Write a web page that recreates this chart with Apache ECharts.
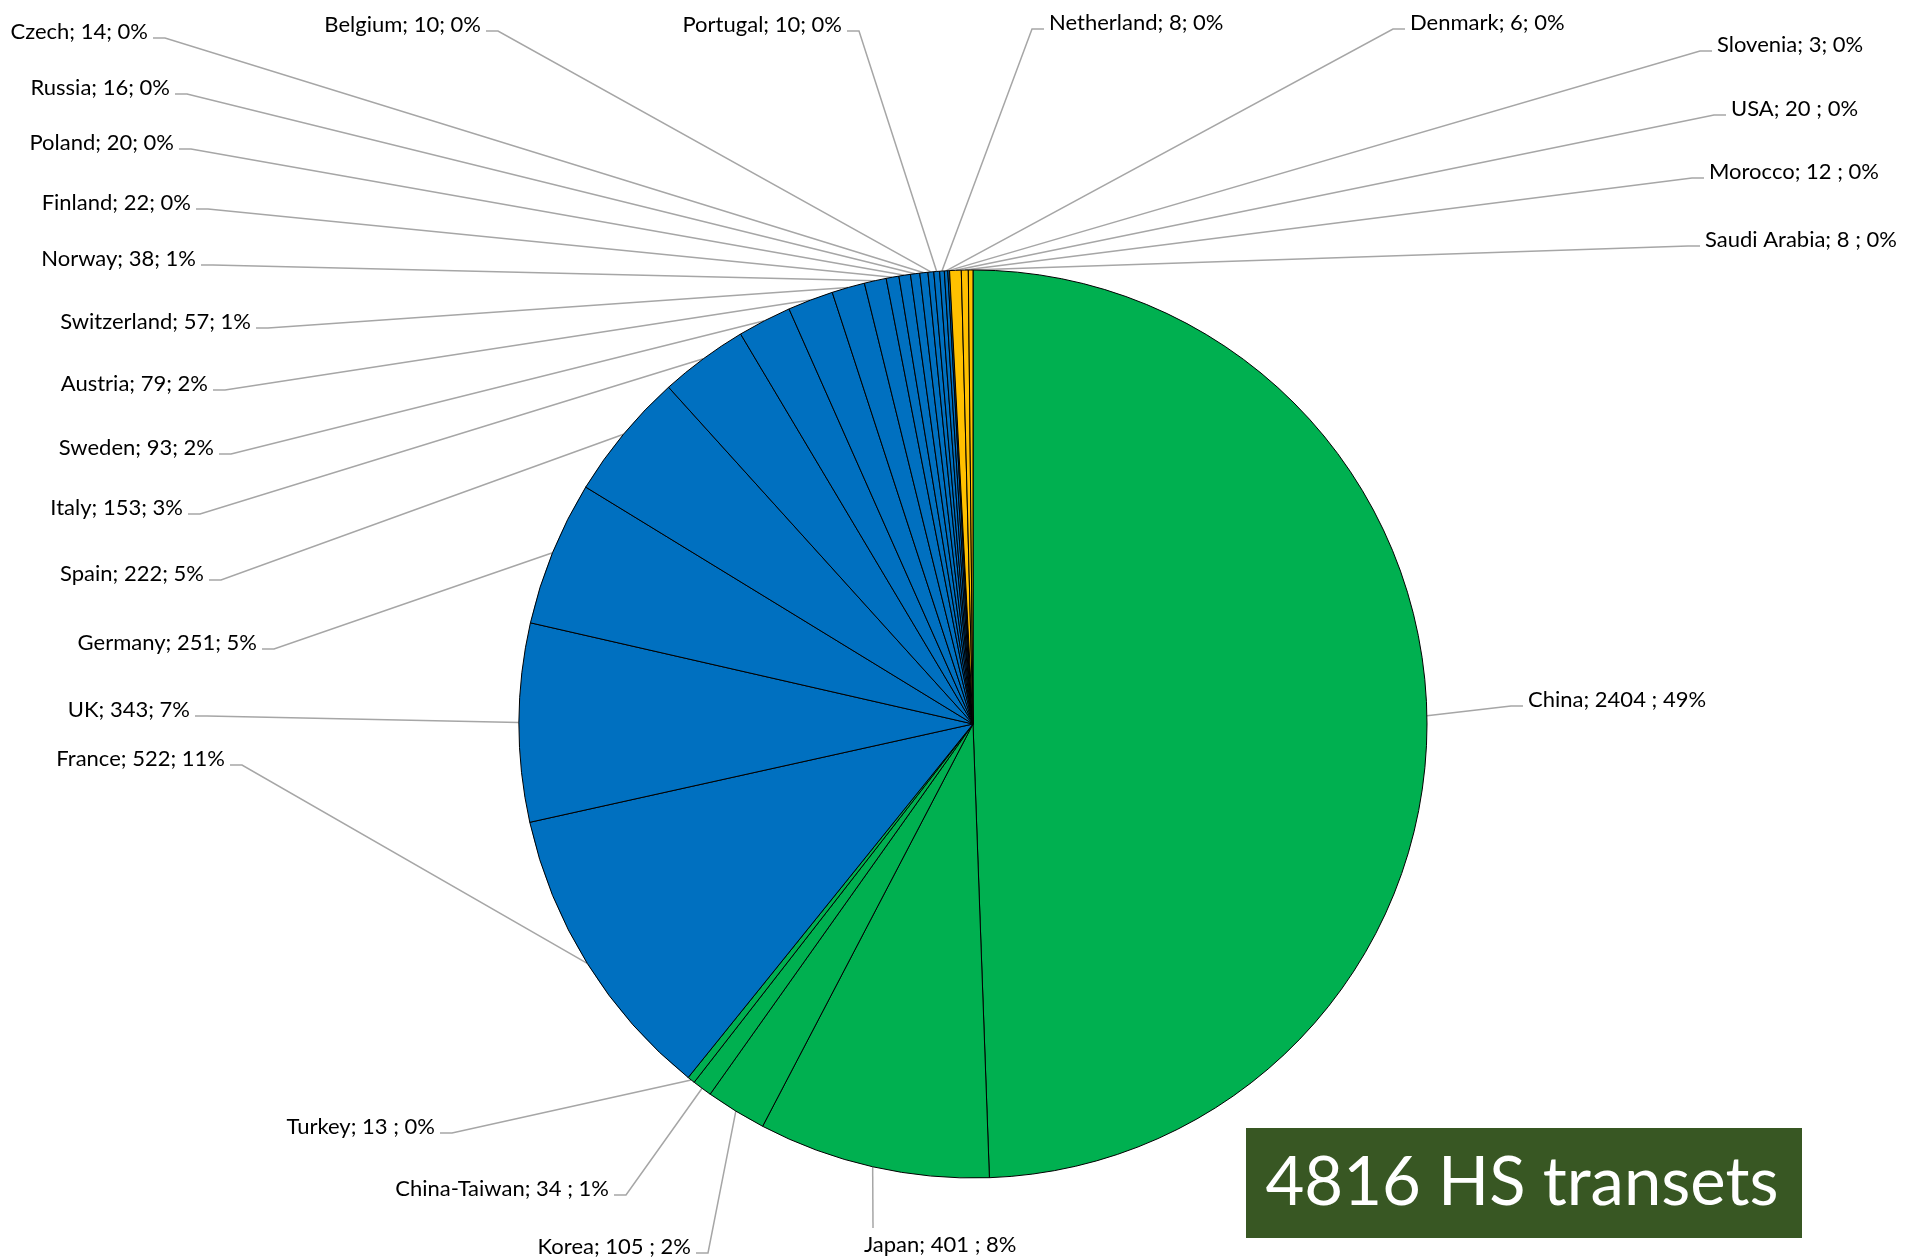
<!DOCTYPE html>
<html>
<head>
<meta charset="utf-8">
<title>HS transets by country</title>
<script src="https://cdn.jsdelivr.net/npm/echarts@6/dist/echarts.min.js"></script>
<style>
  html, body { margin: 0; padding: 0; background: #ffffff; }
  #chart { width: 1908px; height: 1258px; }
</style>
</head>
<body>
<div id="chart"></div>
<script>
// Slices, clockwise from 12 o'clock
const countries = ['China', 'Japan', 'Korea', 'China-Taiwan', 'Turkey',
  'France', 'UK', 'Germany', 'Spain', 'Italy', 'Sweden', 'Austria', 'Switzerland',
  'Norway', 'Finland', 'Poland', 'Russia', 'Czech', 'Belgium', 'Portugal',
  'Netherland', 'Denmark', 'Slovenia', 'USA', 'Morocco', 'Saudi Arabia'];
const transets = [2404, 401, 105, 34, 13,
  522, 343, 251, 222, 153, 93, 79, 57,
  38, 22, 20, 16, 14, 10, 10,
  8, 6, 3, 20, 12, 8];
const regions = ['Asia', 'Asia', 'Asia', 'Asia', 'Asia',
  'Europe', 'Europe', 'Europe', 'Europe', 'Europe', 'Europe', 'Europe', 'Europe',
  'Europe', 'Europe', 'Europe', 'Europe', 'Europe', 'Europe', 'Europe',
  'Europe', 'Europe', 'Europe', 'Other', 'Other', 'Other'];
// labels written as "name; value ; pct" (space before the second semicolon)
const spacedSeparator = ['China', 'Japan', 'Korea', 'China-Taiwan', 'Turkey',
  'USA', 'Morocco', 'Saudi Arabia'];
const boxText = '4816 HS transets';

const regionColors = { Asia: '#00B050', Europe: '#0070C0', Other: '#FFC000' };

// Pie geometry (pixels)
const PIE_CENTER = [973, 724];
const PIE_RADIUS = 454;

// Where each leader line meets its label, and the side of the label it touches
const labelAnchors = {
  'Czech':        [153, 38, 'right'],
  'Russia':       [175, 94, 'right'],
  'Poland':       [179, 149, 'right'],
  'Finland':      [196, 209, 'right'],
  'Norway':       [201, 265, 'right'],
  'Switzerland':  [256, 328, 'right'],
  'Austria':      [213, 390, 'right'],
  'Sweden':       [219, 454, 'right'],
  'Italy':        [188, 514, 'right'],
  'Spain':        [209, 580, 'right'],
  'Germany':      [262, 649, 'right'],
  'UK':           [195, 716, 'right'],
  'France':       [230, 765, 'right'],
  'Belgium':      [486, 31, 'right'],
  'Portugal':     [847, 31, 'right'],
  'Netherland':   [1044, 29, 'left'],
  'Denmark':      [1405, 29, 'left'],
  'Slovenia':     [1712, 51, 'left'],
  'USA':          [1726, 115, 'left'],
  'Morocco':      [1704, 178, 'left'],
  'Saudi Arabia': [1700, 246, 'left'],
  'China':        [1523, 706, 'left'],
  'Turkey':       [440, 1133, 'right'],
  'China-Taiwan': [614, 1195, 'right'],
  'Korea':        [696, 1253, 'right'],
  'Japan':        [873, 1228, 'top']
};

const total = transets.reduce((a, b) => a + b, 0);

const pieData = countries.map((name, i) => ({
  name: name,
  value: transets[i],
  itemStyle: { color: regionColors[regions[i]] }
}));

// Mid-point of a slice's outer arc (used only if the library gives no line points)
function arcMid(index) {
  let before = 0;
  for (let i = 0; i < index; i++) before += transets[i];
  const mid = (before + transets[index] / 2) / total * Math.PI * 2;
  return [PIE_CENTER[0] + PIE_RADIUS * Math.sin(mid), PIE_CENTER[1] - PIE_RADIUS * Math.cos(mid)];
}

const chart = echarts.init(document.getElementById('chart'), null, { renderer: 'canvas' });

chart.setOption({
  animation: false,
  backgroundColor: '#ffffff',
  series: [{
    type: 'pie',
    center: PIE_CENTER,
    radius: PIE_RADIUS,
    startAngle: 90,
    clockwise: true,
    avoidLabelOverlap: false,
    data: pieData,
    itemStyle: { borderColor: '#000000', borderWidth: 1 },
    emphasis: { disabled: true },
    label: {
      show: true,
      position: 'outside',
      fontFamily: 'Lato',
      fontSize: 22,
      color: '#000000',
      formatter: function (p) {
        const sep = spacedSeparator.indexOf(p.name) >= 0 ? ' ; ' : '; ';
        const pct = Math.round(p.value / total * 100);
        return p.name + '; ' + p.value + sep + pct + '%';
      }
    },
    labelLine: {
      show: true,
      length: 10,
      length2: 10,
      smooth: false,
      lineStyle: { color: '#A6A6A6', width: 1.5 }
    },
    labelLayout: function (params) {
      const name = countries[params.dataIndex];
      const a = labelAnchors[name];
      const ax = a[0], ay = a[1], side = a[2];
      const start = (params.labelLinePoints && params.labelLinePoints[0])
        ? params.labelLinePoints[0] : arcMid(params.dataIndex);
      if (side === 'right') {
        return { x: ax - 5, y: ay - 6, align: 'right', verticalAlign: 'middle',
          labelLinePoints: [start, [ax + 12, ay], [ax, ay]] };
      }
      if (side === 'left') {
        return { x: ax + 5, y: ay - 6, align: 'left', verticalAlign: 'middle',
          labelLinePoints: [start, [ax - 12, ay], [ax, ay]] };
      }
      return { x: ax - 9, y: ay + 17, align: 'left', verticalAlign: 'middle',
        labelLinePoints: [start, [ax, ay], [ax, ay]] };
    }
  }],
  graphic: [{
    type: 'group',
    left: 1246,
    top: 1128,
    children: [{
      type: 'rect',
      shape: { x: 0, y: 0, width: 556, height: 110 },
      style: { fill: '#385723' }
    }, {
      type: 'text',
      x: 276,
      y: 55,
      style: {
        text: boxText,
        fill: '#ffffff',
        font: '67px Lato',
        align: 'center',
        verticalAlign: 'middle'
      }
    }]
  }]
});
</script>
</body>
</html>
